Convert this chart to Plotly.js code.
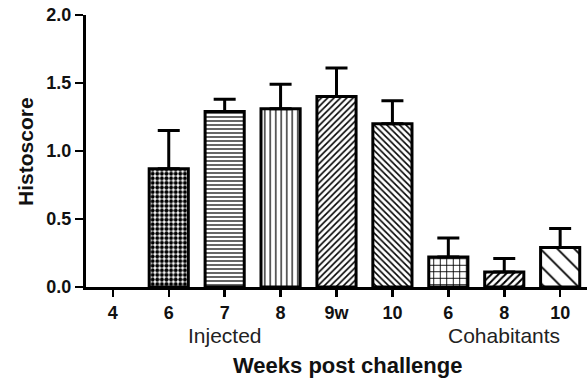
<!DOCTYPE html>
<html>
<head>
<meta charset="utf-8">
<script src="https://cdn.plot.ly/plotly-3.0.1.min.js"></script>
<style>html,body{margin:0;padding:0;background:#fff}#chart{width:587px;height:380px}</style>
</head>
<body>
<div id="chart"></div>
<script>
// Data
var categories = ['Injected 4','Injected 6','Injected 7','Injected 8','Injected 9w','Injected 10','Cohabitants 6','Cohabitants 8','Cohabitants 10'];
var weekLabels = ['4','6','7','8','9w','10','6','8','10'];
var histoscore = [0, 0.87, 1.29, 1.31, 1.40, 1.20, 0.22, 0.11, 0.29];
var errorUp = [NaN, 0.28, 0.09, 0.18, 0.21, 0.17, 0.14, 0.10, 0.14];
var patternShapes = ['', '.', '-', '|', '/', '\\', '+', '/', '\\'];
var patternSizes = [6, 4.6, 4, 5.5, 4.5, 4.5, 6.5, 5, 12];
var patternSolidity = [0.3, 0.6, 0.3, 0.22, 0.35, 0.35, 0.25, 0.4, 0.15];

var outlineWidths = histoscore.map(function(v){ return v > 0 ? 3 : 0; });
var errorDown = errorUp.map(function(e){ return isNaN(e) ? NaN : 0; });

var trace = {
  type: 'bar',
  x: categories,
  y: histoscore,
  width: 0.7,
  marker: {
    color: '#ffffff',
    line: {color: '#000000', width: outlineWidths},
    pattern: {shape: patternShapes, size: patternSizes, solidity: patternSolidity, fgcolor: '#000000', bgcolor: '#ffffff', fillmode: 'replace'}
  },
  error_y: {type: 'data', symmetric: false, array: errorUp, arrayminus: errorDown, color: '#000000', thickness: 3, width: 11},
  hoverinfo: 'none'
};

var layout = {
  width: 587, height: 380,
  margin: {l: 86, r: 0, t: 15, b: 93},
  paper_bgcolor: '#ffffff', plot_bgcolor: '#ffffff',
  showlegend: false,
  font: {family: 'Liberation Sans, Arial, sans-serif', color: '#111111'},
  xaxis: {
    type: 'category',
    tickvals: categories, ticktext: weekLabels,
    range: [-0.48, 8.48],
    showline: true, linecolor: '#000', linewidth: 3,
    ticks: 'outside', ticklen: 7, tickwidth: 2.5, tickcolor: '#000',
    tickfont: {size: 18, family: 'Liberation Sans, Arial, sans-serif', weight: 'bold', color: '#111'},
    showgrid: false, zeroline: false, fixedrange: true
  },
  yaxis: {
    range: [0, 2], tickvals: [0, 0.5, 1, 1.5, 2], ticktext: ['0.0','0.5','1.0','1.5','2.0'],
    showline: true, linecolor: '#000', linewidth: 3,
    ticks: 'outside', ticklen: 8, tickwidth: 2.5, tickcolor: '#000',
    tickfont: {size: 18, family: 'Liberation Sans, Arial, sans-serif', weight: 'bold', color: '#111'},
    showgrid: false, zeroline: false, fixedrange: true
  },
  annotations: [
    {text: 'Injected', xref: 'x', yref: 'paper', x: categories[2], y: -0.18, xanchor: 'center', yanchor: 'middle', showarrow: false, font: {size: 21, color: '#222'}},
    {text: 'Cohabitants', xref: 'x', yref: 'paper', x: categories[7], y: -0.18, xanchor: 'center', yanchor: 'middle', showarrow: false, font: {size: 21, color: '#222'}},
    {text: 'Weeks post challenge', xref: 'paper', yref: 'paper', x: 0.521, y: -0.29, xanchor: 'center', yanchor: 'middle', showarrow: false, font: {size: 22, weight: 'bold', color: '#111'}},
    {text: 'Histoscore', xref: 'paper', yref: 'paper', x: -0.1218, y: 0.5, xanchor: 'center', yanchor: 'middle', textangle: -90, showarrow: false, font: {size: 21, weight: 'bold', color: '#111'}}
  ]
};

Plotly.newPlot('chart', [trace], layout, {staticPlot: true, displayModeBar: false});
</script>
</body>
</html>
